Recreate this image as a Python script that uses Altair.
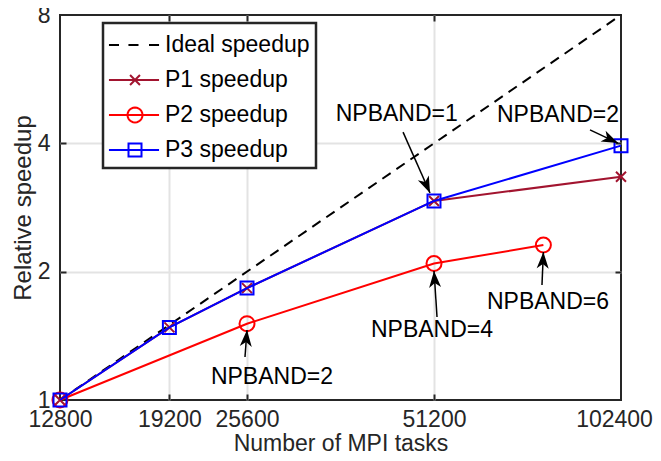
import math
import altair as alt
import pandas as pd

# ---------------- data ----------------
x_ticks = [12800, 19200, 25600, 51200, 102400]
y_ticks = [1, 2, 4, 8]
inner_x = [19200, 25600, 51200]
inner_y = [2, 4]

ideal_tasks = [12800, 102400]
ideal_speedup = [1, 8]
p1_tasks = [12800, 19200, 25600, 51200, 102400]
p1_speedup = [1.0, 1.48, 1.83, 2.93, 3.34]
p2_tasks = [12800, 25600, 51200, 76800]
p2_speedup = [1.0, 1.51, 2.09, 2.31]
p3_tasks = [12800, 19200, 25600, 51200, 102400]
p3_speedup = [1.0, 1.48, 1.83, 2.93, 3.95]

series_names = ["Ideal speedup", "P1 speedup", "P2 speedup", "P3 speedup"]
series_colors = ["#000000", "#A2142F", "#FF0000", "#0000FF"]

ann_labels = ["NPBAND=1", "NPBAND=2", "NPBAND=2", "NPBAND=4", "NPBAND=6"]
ann_text_x = [44600, 81070, 28080, 50820, 78120]
ann_text_y = [4.69, 4.66, 1.132, 1.459, 1.698]
ann_from_x = [45650, 91280, 25410, 51780, 76400]
ann_from_y = [4.25, 4.30, 1.261, 1.566, 1.861]
ann_to_x = [50450, 101270, 25600, 51200, 76800]
ann_to_y = [3.06, 4.005, 1.459, 2.007, 2.224]

# ---------------- layout / style ----------------
W, H = 561, 385
XMIN, XMAX = 12800, 102400
YMIN, YMAX = 1, 8
FONT = "Liberation Sans"
AX = "#262626"

xs = alt.Scale(type="log", base=2, domain=[XMIN, XMAX], nice=False)
ys = alt.Scale(type="log", base=2, domain=[YMIN, YMAX], nice=False)


def px(v):
    return W * math.log2(v / XMIN) / math.log2(XMAX / XMIN)


def py(v):
    return H * (1 - math.log2(v / YMIN) / math.log2(YMAX / YMIN))


ann_angle = [
    math.degrees(math.atan2(px(tx) - px(fx), -(py(ty) - py(fy)))) % 360
    for fx, fy, tx, ty in zip(ann_from_x, ann_from_y, ann_to_x, ann_to_y)
]

ann_df = pd.DataFrame({
    "label": ann_labels, "text_x": ann_text_x, "text_y": ann_text_y,
    "fx": ann_from_x, "fy": ann_from_y, "tx": ann_to_x, "ty": ann_to_y,
    "ang": ann_angle,
})


def sdf(tasks, speed, name):
    return pd.DataFrame({"tasks": tasks, "speedup": speed, "series": name})


ideal_df = sdf(ideal_tasks, ideal_speedup, series_names[0])
p1_df = sdf(p1_tasks, p1_speedup, series_names[1])
p2_df = sdf(p2_tasks, p2_speedup, series_names[2])
p3_df = sdf(p3_tasks, p3_speedup, series_names[3])

# marker / legend symbol shapes
X_PATH = "M-1,-1L1,1M-1,1L1,-1"
ARROW_PATH = "M0,0L0.6,1.65L0,1.2L-0.6,1.65Z"
L0, L1, MC = -1.07, 2.27, 0.667
circ = " ".join(
    ("M" if k == 0 else "L") + f"{MC + 0.5 * math.cos(2 * math.pi * k / 24):.3f},{0.5 * math.sin(2 * math.pi * k / 24):.3f}"
    for k in range(24)
) + "Z"
legend_paths = [
    "M-1.07,0L-0.4,0M0.23,0L0.9,0M1.6,0L2.27,0",
    f"M{L0},0L{L1},0M{MC-0.33},-0.33L{MC+0.33},0.33M{MC-0.33},0.33L{MC+0.33},-0.33",
    f"M{L0},0L{L1},0" + circ,
    f"M{L0},0L{L1},0M{MC-0.433},-0.433L{MC+0.433},-0.433L{MC+0.433},0.433L{MC-0.433},0.433Z",
]

main_x = alt.Axis(values=x_ticks, format="d", title="Number of MPI tasks", grid=False,
                  ticks=False, tickSize=0, domain=False, labelFont=FONT, labelFontSize=23,
                  labelColor=AX, labelPadding=8, labelOverlap=False, labelFlush=False,
                  labelOffset={"condition": {"test": f"datum.value == {XMAX}", "value": -7},
                               "value": 0},
                  titleFont=FONT, titleFontSize=23, titleFontWeight="normal",
                  titleColor=AX, titleBaseline="alphabetic", titleY=50)
main_y = alt.Axis(values=y_ticks, format="d", title="Relative speedup", grid=False,
                  ticks=False, tickSize=0, domain=False, labelFont=FONT, labelFontSize=23,
                  labelColor=AX, labelPadding=10, labelOverlap=False, labelFlush=False,
                  titleFont=FONT, titleFontSize=24, titleFontWeight="normal",
                  titleColor=AX, titlePadding=2)


def tick_axis(orient, off, vals):
    return alt.Axis(orient=orient, offset=off, values=vals, labels=False, domain=False,
                    grid=False, ticks=True, tickSize=6, tickWidth=2, tickColor=AX, title="")


def grid_axis(orient, vals):
    return alt.Axis(orient=orient, values=vals, labels=False, domain=False, ticks=False,
                    tickSize=0, grid=True, gridColor="#e3e3e3", gridWidth=2, title="")


def enc(xaxis=None, yaxis=None):
    return dict(x=alt.X("tasks:Q", scale=xs, axis=xaxis),
                y=alt.Y("speedup:Q", scale=ys, axis=yaxis))


ideal = alt.Chart(ideal_df).mark_line(color="black", strokeWidth=2, strokeDash=[10, 7]).encode(
    **enc(main_x, main_y))
p1l = alt.Chart(p1_df).mark_line(color=series_colors[1], strokeWidth=2).encode(
    **enc(tick_axis("top", -H, inner_x), tick_axis("right", -W, inner_y)))
p1p = alt.Chart(p1_df).mark_point(shape=X_PATH, size=100, filled=False, color=series_colors[1],
                                  strokeWidth=2, opacity=1).encode(**enc())
p2l = alt.Chart(p2_df).mark_line(color=series_colors[2], strokeWidth=2).encode(
    **enc(tick_axis("bottom", -H, inner_x), tick_axis("left", -W, inner_y)))
p2p = alt.Chart(p2_df).mark_point(shape="circle", size=225, filled=False, color=series_colors[2],
                                  strokeWidth=2, opacity=1).encode(**enc())
p3l = alt.Chart(p3_df).mark_line(color=series_colors[3], strokeWidth=2).encode(
    **enc(grid_axis("bottom", inner_x), grid_axis("left", inner_y)))
p3p = alt.Chart(p3_df).mark_point(shape="square", size=169, filled=False, color=series_colors[3],
                                  strokeWidth=2, opacity=1).encode(**enc())

rules = alt.Chart(ann_df).mark_rule(color="black", strokeWidth=1.5).encode(
    x=alt.X("fx:Q", scale=xs, axis=None), y=alt.Y("fy:Q", scale=ys, axis=None),
    x2="tx:Q", y2="ty:Q")
heads = alt.Chart(ann_df).mark_point(shape=ARROW_PATH, size=400, filled=True, color="black",
                                     opacity=1).encode(
    x=alt.X("tx:Q", scale=xs, axis=None), y=alt.Y("ty:Q", scale=ys, axis=None),
    angle=alt.Angle("ang:Q", scale=None))
texts = alt.Chart(ann_df).mark_text(font=FONT, fontSize=23, color="black", align="center",
                                    baseline="middle").encode(
    x=alt.X("text_x:Q", scale=xs, axis=None), y=alt.Y("text_y:Q", scale=ys, axis=None),
    text="label:N")

leg = alt.Legend(title=None, orient="none", legendX=43, legendY=8, direction="vertical",
                 symbolSize=900, symbolStrokeWidth=2, symbolFillColor="transparent",
                 labelFont=FONT, labelFontSize=23, labelColor="black", labelOffset=24,
                 labelLimit=0, rowPadding=7, padding=6, strokeColor=AX, fillColor="white",
                 zindex=1)
legend_df = pd.DataFrame({"series": series_names})
legend_layer = alt.Chart(legend_df).mark_point(filled=False, strokeWidth=2, opacity=1).encode(
    color=alt.Color("series:N", scale=alt.Scale(domain=series_names, range=series_colors), legend=leg),
    shape=alt.Shape("series:N", scale=alt.Scale(domain=series_names, range=legend_paths), legend=leg),
).transform_filter("false")

chart = alt.layer(
    ideal, p1l, p1p, p2l, p2p, p3l, p3p, rules, heads, texts, legend_layer
).resolve_axis(x="independent", y="independent").properties(
    width=W, height=H,
    autosize=alt.AutoSizeParams(type="none"),
    padding={"left": 52, "top": 7, "right": 32, "bottom": 53},
).configure_view(stroke=AX, strokeWidth=2).configure_legend(strokeWidth=2.5)

chart.save("out.html", embed_options={"renderer": "svg", "actions": False})
